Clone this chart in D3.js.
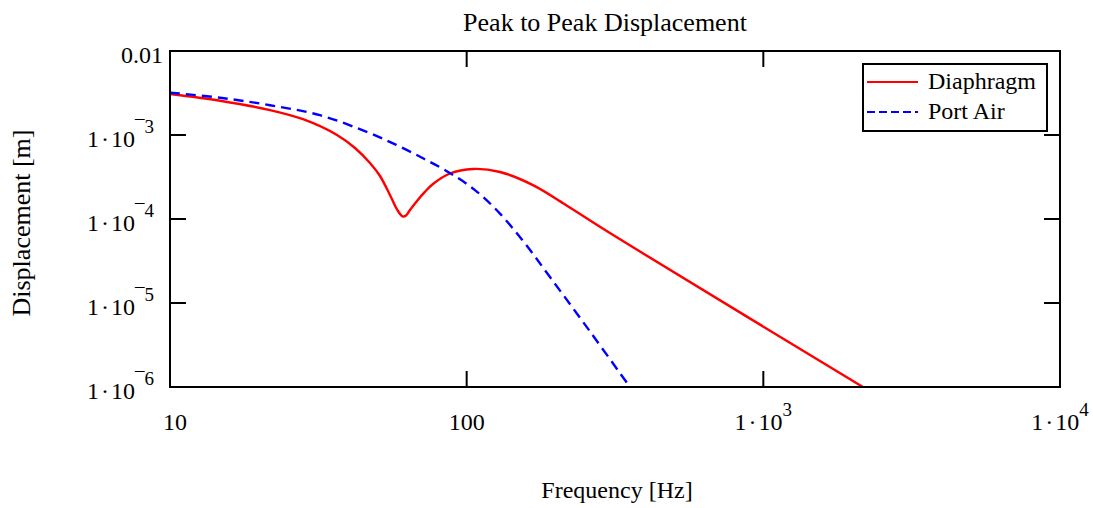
<!DOCTYPE html>
<html>
<head>
<meta charset="utf-8">
<script src="https://cdn.jsdelivr.net/npm/d3@7"></script>
<style>
	body { margin: 0; background: #fff; }
	svg { display: block; font-family: 'Liberation Serif', 'Times New Roman', serif; }
</style>
</head>
<body>
<div id="chart"></div>
<script>
// frequency [Hz] and displacement [m]
const diaphragmFreq = [10, 14.74, 21.73, 28.08, 36.55, 42.03, 47.21, 51.04, 55.14, 58.23, 59.6, 60.99, 62.42, 64.4, 68.0, 72.3, 76.98, 87.8, 105.0, 129.5, 167.3, 217.8, 281.4, 383.8, 2166];
const diaphragmDisp = [3.08e-3, 2.56e-3, 1.98e-3, 1.54e-3, 1.0e-3, 7.0e-4, 4.64e-4, 3.25e-4, 1.93e-4, 1.30e-4, 1.15e-4, 1.07e-4, 1.10e-4, 1.28e-4, 1.64e-4, 2.10e-4, 2.61e-4, 3.48e-4, 3.94e-4, 3.63e-4, 2.53e-4, 1.44e-4, 8.10e-5, 4.10e-5, 1e-6];

const portFreq = [10, 14.74, 21.73, 32.03, 47.21, 59.6, 72.3, 87.8, 106.7, 129.5, 157.2, 190.9, 260.4, 355.1];
const portDisp = [3.19e-3, 2.78e-3, 2.26e-3, 1.72e-3, 1.05e-3, 7.26e-4, 5.15e-4, 3.53e-4, 2.21e-4, 1.16e-4, 5.11e-5, 2.04e-5, 4.58e-6, 1e-6];

const seriesNames = ["Diaphragm", "Port Air"];

const xTicks = [10, 100, 1000, 10000];
const xTickLabels = ["10", "100", "1·10^3", "1·10^4"];
const yTicks = [1e-2, 1e-3, 1e-4, 1e-5, 1e-6];
const yTickLabels = ["0.01", "1·10^-3", "1·10^-4", "1·10^-5", "1·10^-6"];

const width = 1093, height = 508;
const plot = { left: 170, right: 1060, top: 51, bottom: 387 };
const tickLen = 16;

const svg = d3.select("#chart").append("svg")
	.attr("width", width)
	.attr("height", height);

const x = d3.scaleLog().domain([10, 1e4]).range([plot.left, plot.right]);
const y = d3.scaleLog().domain([1e-6, 1e-2]).range([plot.bottom, plot.top]);

// writes "1·10^-3" style labels with a raised exponent
function writeLabel(sel, label) {
	let parts = label.split("^");
	if (parts.length == 1) {
		sel.append("tspan").text(label);
		return;
	}
	let base = parts[0].split("·");
	sel.append("tspan").text(base[0]);
	sel.append("tspan").attr("dx", 2).text("·");
	sel.append("tspan").attr("dx", 2).text(base[1]);
	sel.append("tspan")
		.attr("dy", -14)
		.attr("font-size", "19px")
		.text(parts[1].replace("-", "\u00AF"));
}

svg.append("defs").append("clipPath")
	.attr("id", "plot-clip")
	.append("rect")
	.attr("x", plot.left)
	.attr("y", plot.top)
	.attr("width", plot.right - plot.left)
	.attr("height", plot.bottom - plot.top);

// curves
const line = d3.line()
	.x(d => x(d[0]))
	.y(d => y(d[1]))
	.curve(d3.curveCatmullRom.alpha(0.5));

const curves = svg.append("g").attr("clip-path", "url(#plot-clip)");

curves.append("path")
	.datum(diaphragmFreq.map((f, i) => [f, diaphragmDisp[i]]))
	.attr("d", line)
	.attr("fill", "none")
	.attr("stroke", "#ff0000")
	.attr("stroke-width", 2.4);

curves.append("path")
	.datum(portFreq.map((f, i) => [f, portDisp[i]]))
	.attr("d", line)
	.attr("fill", "none")
	.attr("stroke", "#0000ff")
	.attr("stroke-width", 2.4)
	.attr("stroke-dasharray", "10,6");

// frame and inner ticks on all four sides
svg.append("rect")
	.attr("x", plot.left)
	.attr("y", plot.top)
	.attr("width", plot.right - plot.left)
	.attr("height", plot.bottom - plot.top)
	.attr("fill", "none")
	.attr("stroke", "#000")
	.attr("stroke-width", 2);

const ticks = svg.append("g").attr("stroke", "#000").attr("stroke-width", 2);
const innerX = xTicks.slice(1, -1), innerY = yTicks.slice(1, -1);

ticks.selectAll("line.xb").data(innerX).join("line")
	.attr("x1", d => x(d)).attr("x2", d => x(d))
	.attr("y1", plot.bottom).attr("y2", plot.bottom - tickLen);
ticks.selectAll("line.xt").data(innerX).join("line")
	.attr("x1", d => x(d)).attr("x2", d => x(d))
	.attr("y1", plot.top).attr("y2", plot.top + tickLen);
ticks.selectAll("line.yl").data(innerY).join("line")
	.attr("x1", plot.left).attr("x2", plot.left + tickLen)
	.attr("y1", d => y(d)).attr("y2", d => y(d));
ticks.selectAll("line.yr").data(innerY).join("line")
	.attr("x1", plot.right).attr("x2", plot.right - tickLen)
	.attr("y1", d => y(d)).attr("y2", d => y(d));

// tick labels
svg.append("g")
	.attr("font-size", "24px")
	.selectAll("text")
	.data(xTicks)
	.join("text")
	.attr("x", (d, i) => x(d) + (i == 0 ? 5 : 0))
	.attr("y", plot.bottom + 43)
	.attr("text-anchor", "middle")
	.each(function(d, i) { writeLabel(d3.select(this), xTickLabels[i]); });

svg.append("g")
	.attr("font-size", "24px")
	.selectAll("text")
	.data(yTicks)
	.join("text")
	.attr("x", (d, i) => yTickLabels[i].includes("^") ? 154 : 163)
	.attr("y", d => y(d) + 12)
	.attr("text-anchor", "end")
	.each(function(d, i) { writeLabel(d3.select(this), yTickLabels[i]); });

// titles
svg.append("text")
	.attr("x", 605).attr("y", 31)
	.attr("text-anchor", "middle")
	.attr("font-size", "26px")
	.text("Peak to Peak Displacement");

svg.append("text")
	.attr("x", 617).attr("y", 498)
	.attr("text-anchor", "middle")
	.attr("font-size", "24px")
	.text("Frequency [Hz]");

svg.append("text")
	.attr("transform", "translate(30, 223) rotate(-90)")
	.attr("text-anchor", "middle")
	.attr("font-size", "26px")
	.text("Displacement [m]");

// legend
const legend = svg.append("g").attr("transform", "translate(863, 64)");

legend.append("rect")
	.attr("width", 184)
	.attr("height", 67)
	.attr("fill", "#fff")
	.attr("stroke", "#000")
	.attr("stroke-width", 2);

const legendItem = legend.selectAll("g.item")
	.data(seriesNames)
	.join("g")
	.attr("class", "item")
	.attr("transform", (d, i) => `translate(0, ${18 + i * 30})`);

legendItem.append("line")
	.attr("x1", 4).attr("x2", 55)
	.attr("stroke", (d, i) => i == 0 ? "#ff0000" : "#0000ff")
	.attr("stroke-width", 2)
	.attr("stroke-dasharray", (d, i) => i == 0 ? null : "8,4");

legendItem.append("text")
	.attr("x", 65)
	.attr("y", 7)
	.attr("font-size", "24px")
	.text(d => d);
</script>
</body>
</html>
